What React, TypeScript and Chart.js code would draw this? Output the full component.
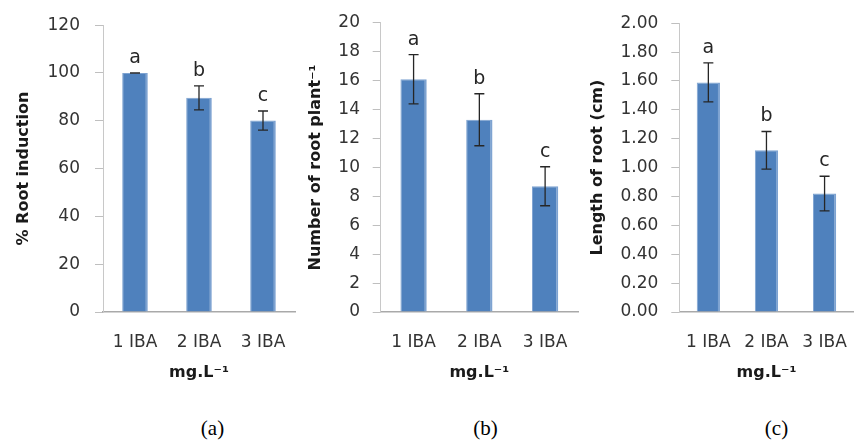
import React, { useEffect, useRef } from "react";
import { Chart, registerables } from "chart.js";

Chart.register(...registerables);

// ---- Data ----
const categories = ["1 IBA", "2 IBA", "3 IBA"];

const rootInduction = [100, 89.6, 80.1];
const rootInductionErr = [0, 5, 4];
const rootInductionLetters = ["a", "b", "c"];

const rootNumber = [16.1, 13.3, 8.7];
const rootNumberErr = [1.7, 1.8, 1.35];
const rootNumberLetters = ["a", "b", "c"];

const rootLength = [1.59, 1.12, 0.82];
const rootLengthErr = [0.135, 0.13, 0.12];
const rootLengthLetters = ["a", "b", "c"];

const xTitle = "mg.L⁻¹";
const panelLabels = ["(a)", "(b)", "(c)"];

const FONT = "'DejaVu Sans', sans-serif";
const BAR = "#4f81bd";
const TEXT = "#333333";

const errorBarPlugin = {
  id: "errorBars",
  afterDatasetsDraw(chart: any, _args: any, opts: any) {
    const { ctx, scales } = chart;
    const y = scales.y;
    const meta = chart.getDatasetMeta(0);
    const data = chart.data.datasets[0].data as number[];
    ctx.save();
    meta.data.forEach((bar: any, i: number) => {
      const v = data[i];
      const e = opts.errors[i];
      const cx = bar.x;
      const yt = y.getPixelForValue(v + e);
      const yb = y.getPixelForValue(v - e);
      ctx.strokeStyle = "#262626";
      ctx.lineWidth = 1.3;
      ctx.beginPath();
      ctx.moveTo(cx, yt);
      ctx.lineTo(cx, yb);
      ctx.moveTo(cx - 5, yt);
      ctx.lineTo(cx + 5, yt);
      ctx.moveTo(cx - 5, yb);
      ctx.lineTo(cx + 5, yb);
      ctx.stroke();
      ctx.fillStyle = "#262626";
      ctx.font = `19px ${FONT}`;
      ctx.textAlign = "center";
      ctx.textBaseline = "middle";
      ctx.fillText(opts.letters[i], cx, yt - 15);
    });
    ctx.restore();
  },
};

type PanelCfg = {
  left: number;
  width: number;
  padTop: number;
  padRight: number;
  yWidth: number;
  tickPad: number;
  titlePad: number;
  yTitle: string;
  yMax: number;
  yStep: number;
  decimals: number;
  values: number[];
  errors: number[];
  letters: string[];
};

const HEIGHT = 390;

function Panel({ cfg }: { cfg: PanelCfg }) {
  const ref = useRef<HTMLCanvasElement | null>(null);
  useEffect(() => {
    if (!ref.current) return;
    const chart = new Chart(ref.current, {
      type: "bar",
      data: {
        labels: categories,
        datasets: [
          {
            data: cfg.values,
            backgroundColor: BAR,
            borderColor: "#7ea3d1",
            borderWidth: { left: 1, right: 2, top: 1, bottom: 0 } as any,
            borderSkipped: "start",
            barPercentage: 0.4,
            categoryPercentage: 1,
          },
        ],
      },
      options: {
        animation: false,
        responsive: false,
        layout: { padding: { top: cfg.padTop, right: cfg.padRight, left: 0, bottom: 0 } },
        plugins: {
          legend: { display: false },
          tooltip: { enabled: false },
          errorBars: { errors: cfg.errors, letters: cfg.letters },
        } as any,
        scales: {
          x: {
            grid: { display: false },
            border: { display: true, color: "#a9a9a9", width: 1.5 },
            ticks: { color: TEXT, font: { family: FONT, size: 17 }, padding: 12, maxRotation: 0 },
            title: {
              display: true,
              text: xTitle,
              color: "#1a1a1a",
              font: { family: FONT, size: 16, weight: "bold" },
              padding: { top: 0, bottom: 8 },
            },
            afterFit: (s: any) => {
              s.height = 78;
            },
          },
          y: {
            min: 0,
            max: cfg.yMax,
            grid: { display: true, drawOnChartArea: false, drawTicks: true, tickLength: 8, color: "#bfbfbf" },
            border: { display: true, color: "#c8c8c8", width: 1 },
            ticks: {
              stepSize: cfg.yStep,
              color: TEXT,
              font: { family: FONT, size: 17 },
              padding: cfg.tickPad,
              callback: (v: any) => Number(v).toFixed(cfg.decimals),
            },
            title: {
              display: true,
              text: cfg.yTitle,
              color: "#1a1a1a",
              font: { family: FONT, size: 16, weight: "bold" },
              padding: { top: cfg.titlePad, bottom: 0 },
            },
            afterFit: (s: any) => {
              s.width = cfg.yWidth;
            },
          },
        },
      },
      plugins: [errorBarPlugin],
    });
    return () => chart.destroy();
  }, [cfg]);
  return (
    <canvas
      ref={ref}
      width={cfg.width}
      height={HEIGHT}
      style={{ position: "absolute", left: cfg.left, top: 0, width: cfg.width, height: HEIGHT }}
    />
  );
}

const panels: PanelCfg[] = [
  {
    left: 0, width: 300, padTop: 21, padRight: 5, yWidth: 103, tickPad: 15, titlePad: 14,
    yTitle: "% Root induction", yMax: 120, yStep: 20, decimals: 0,
    values: rootInduction, errors: rootInductionErr, letters: rootInductionLetters,
  },
  {
    left: 300, width: 282, padTop: 17, padRight: 4, yWidth: 80.7, tickPad: 12.7, titlePad: 6,
    yTitle: "Number of root plant⁻¹", yMax: 20, yStep: 2, decimals: 0,
    values: rootNumber, errors: rootNumberErr, letters: rootNumberLetters,
  },
  {
    left: 582, width: 277, padTop: 17, padRight: 1, yWidth: 97.3, tickPad: 13, titlePad: 6,
    yTitle: "Length of root (cm)", yMax: 2, yStep: 0.2, decimals: 2,
    values: rootLength, errors: rootLengthErr, letters: rootLengthLetters,
  },
];

const labelCenters = [212.5, 485.5, 776.5];

export default function App() {
  return (
    <div style={{ position: "absolute", left: 0, top: 0, width: 859, height: 443, background: "#fff", overflow: "hidden" }}>
      {panels.map((p, i) => (
        <Panel key={i} cfg={p} />
      ))}
      {panelLabels.map((t, i) => (
        <div
          key={t}
          style={{
            position: "absolute",
            left: labelCenters[i] - 30,
            width: 60,
            top: 415,
            textAlign: "center",
            fontFamily: "'Liberation Serif', 'Times New Roman', serif",
            fontSize: 21,
            lineHeight: "26px",
            color: "#000",
          }}
        >
          {t}
        </div>
      ))}
    </div>
  );
}
